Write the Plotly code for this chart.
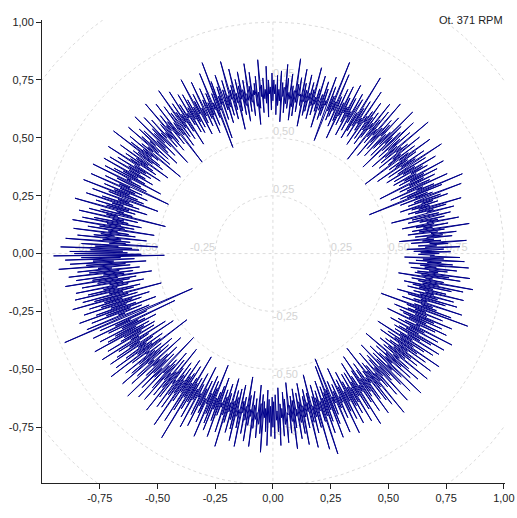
import numpy as np
import plotly.graph_objects as go

# Orbit radius (hundredths) sampled around the shaft, one list per 30 degree sector
SECTOR_START_DEG = [0, 30, 60, 90, 120, 150, 180, 210, 240, 270, 300, 330]
r_000 = [72, 64, 77, 61, 69, 74, 58, 81, 66, 71, 63, 76, 68, 84, 60, 73, 65, 70, 55, 78,
         67, 74, 62, 80, 69, 72, 59, 75, 64, 86, 61, 70, 66, 77, 63, 71, 57, 82, 68, 73,
         65, 76, 60, 70, 79, 62, 74, 67, 53, 81, 69, 72, 64, 78, 61, 85, 66, 71, 63, 75,
         58, 73, 68, 80, 62, 77, 65, 70, 87, 59, 74, 66, 72, 45, 79, 63, 89, 60, 76, 68,
         71, 56, 83, 64, 75, 69, 61, 78, 66, 73, 52, 80, 67, 74, 62, 84, 65, 71, 60, 77]
r_030 = [69, 75, 61, 82, 66, 72, 58, 78, 64, 70, 87, 60, 74, 67, 79, 55, 71, 65, 76, 62,
         84, 68, 73, 50, 77, 63, 70, 66, 81, 59, 75, 69, 72, 61, 88, 64, 71, 57, 79, 67,
         74, 62, 70, 83, 65, 76, 54, 72, 68, 78, 60, 86, 66, 73, 63, 71, 58, 80, 69, 75,
         61, 77, 64, 72, 56, 85, 67, 70, 62, 79, 65, 74, 52, 82, 68, 71, 63, 76, 59, 73,
         66, 80, 61, 75, 69, 72, 57, 84, 64, 70, 67, 78, 60, 74, 65, 89, 62, 71, 58, 77]
r_060 = [73, 65, 79, 61, 70, 67, 76, 58, 82, 64, 71, 68, 75, 62, 80, 66, 72, 55, 78, 63,
         69, 74, 60, 84, 67, 71, 64, 89, 62, 73, 66, 77, 59, 52, 81, 68, 70, 63, 75, 61,
         78, 65, 72, 69, 57, 80, 64, 74, 67, 70, 62, 83, 66, 73, 60, 76, 68, 71, 63, 79,
         61, 72, 67, 75, 56, 81, 65, 70, 69, 77, 62, 74, 66, 85, 60, 71, 64, 73, 58, 78,
         67, 70, 63, 76, 65, 82, 61, 72, 68, 74, 57, 79, 66, 71, 64, 77, 60, 73, 69, 75]
r_090 = [66, 78, 62, 72, 69, 75, 59, 81, 65, 71, 67, 76, 61, 73, 68, 84, 63, 70, 56, 77,
         64, 74, 69, 71, 60, 79, 66, 73, 62, 83, 67, 70, 58, 76, 65, 72, 61, 80, 68, 74,
         63, 77, 55, 71, 67, 82, 64, 75, 60, 73, 69, 86, 62, 71, 66, 78, 59, 74, 65, 70,
         81, 61, 76, 68, 72, 53, 79, 66, 88, 49, 74, 63, 70, 67, 84, 60, 75, 65, 71, 57,
         78, 64, 73, 69, 61, 82, 66, 70, 63, 77, 58, 74, 68, 85, 62, 72, 65, 76, 60, 79]
r_120 = [67, 73, 61, 80, 65, 71, 69, 76, 56, 83, 63, 72, 68, 78, 60, 74, 66, 86, 62, 70,
         75, 58, 79, 64, 71, 67, 50, 82, 65, 73, 61, 77, 69, 72, 63, 85, 59, 74, 66, 70,
         62, 78, 68, 71, 54, 81, 64, 75, 67, 73, 60, 84, 65, 70, 63, 77, 57, 79, 69, 72,
         61, 76, 66, 83, 59, 71, 68, 74, 52, 80, 64, 72, 67, 78, 62, 87, 60, 73, 65, 75,
         70, 56, 81, 66, 72, 63, 77, 61, 74, 69, 85, 58, 71, 65, 79, 62, 73, 67, 82, 64]
r_150 = [72, 60, 84, 67, 74, 63, 78, 55, 82, 69, 71, 64, 87, 61, 75, 66, 50, 80, 68, 73,
         62, 86, 65, 72, 59, 79, 67, 74, 63, 88, 60, 76, 69, 53, 83, 66, 71, 64, 78, 61,
         85, 68, 73, 57, 80, 65, 75, 62, 89, 67, 70, 63, 77, 48, 82, 69, 74, 60, 86, 66,
         71, 64, 79, 58, 84, 67, 73, 61, 88, 65, 76, 52, 81, 68, 72, 63, 87, 60, 75, 69,
         78, 55, 85, 66, 74, 62, 90, 64, 71, 50, 83, 67, 77, 61, 92, 58, 79, 65, 88, 63]
r_180 = [86, 57, 95, 47, 83, 66, 90, 60, 78, 69, 88, 55, 81, 64, 93, 62, 76, 70, 85, 58,
         80, 67, 89, 61, 74, 65, 86, 53, 79, 68, 91, 60, 77, 63, 84, 66, 72, 57, 87, 64,
         75, 69, 82, 59, 88, 62, 73, 67, 85, 50, 80, 65, 90, 61, 76, 68, 83, 56, 78, 64,
         86, 60, 74, 67, 81, 63, 89, 54, 77, 66, 84, 61, 72, 69, 87, 58, 79, 98, 38, 64,
         82, 60, 75, 68, 86, 47, 79, 65, 73, 62, 84, 57, 77, 67, 81, 61, 88, 64, 74, 59]
r_210 = [76, 66, 83, 60, 72, 68, 87, 55, 79, 64, 74, 69, 81, 52, 85, 63, 71, 67, 78, 59,
         84, 65, 73, 61, 88, 47, 77, 68, 70, 62, 82, 66, 75, 57, 80, 64, 86, 60, 72, 69,
         79, 54, 83, 67, 71, 63, 76, 58, 88, 65, 73, 61, 81, 69, 74, 50, 85, 66, 70, 62,
         78, 64, 84, 57, 72, 68, 80, 60, 75, 66, 87, 53, 79, 63, 71, 69, 83, 59, 76, 65,
         82, 61, 74, 67, 90, 56, 77, 64, 72, 62, 86, 58, 80, 66, 73, 63, 93, 52, 78, 65]
r_240 = [74, 62, 81, 67, 72, 59, 85, 64, 70, 68, 78, 55, 83, 65, 73, 61, 76, 69, 80, 58,
         71, 66, 86, 60, 75, 63, 79, 52, 82, 67, 72, 64, 77, 61, 84, 57, 74, 68, 70, 62,
         81, 65, 73, 59, 87, 63, 76, 67, 71, 56, 80, 66, 74, 61, 78, 64, 83, 60, 72, 69,
         77, 58, 85, 65, 70, 63, 79, 67, 73, 54, 82, 62, 75, 68, 71, 60, 84, 66, 76, 63,
         72, 69, 80, 57, 74, 65, 78, 61, 86, 64, 71, 67, 77, 59, 83, 63, 73, 66, 79, 62]
r_270 = [75, 64, 80, 61, 72, 68, 77, 58, 83, 65, 71, 67, 79, 60, 74, 63, 82, 69, 70, 56,
         78, 66, 73, 62, 85, 64, 76, 59, 71, 68, 81, 61, 74, 65, 79, 57, 84, 67, 72, 63,
         77, 60, 70, 66, 86, 62, 75, 54, 80, 68, 73, 64, 78, 59, 88, 65, 71, 62, 76, 67,
         91, 58, 74, 66, 82, 61, 77, 64, 72, 52, 85, 63, 79, 49, 75, 67, 70, 60, 84, 65,
         73, 62, 78, 68, 71, 55, 86, 64, 76, 61, 80, 67, 72, 58, 83, 63, 75, 66, 79, 60]
r_300 = [74, 67, 84, 60, 72, 65, 79, 56, 87, 63, 71, 68, 77, 61, 82, 54, 75, 66, 73, 62,
         85, 59, 78, 67, 70, 64, 80, 52, 83, 65, 74, 61, 89, 63, 72, 68, 76, 57, 81, 66,
         71, 62, 86, 60, 75, 67, 73, 55, 79, 64, 84, 61, 72, 69, 77, 58, 88, 63, 70, 66,
         80, 60, 74, 65, 83, 53, 77, 68, 71, 62, 86, 64, 73, 59, 79, 66, 75, 61, 85, 63,
         72, 67, 81, 57, 76, 64, 87, 60, 73, 66, 78, 54, 82, 65, 71, 62, 84, 68, 74, 61]
r_330 = [79, 63, 85, 66, 72, 58, 81, 67, 74, 61, 87, 64, 71, 69, 78, 55, 83, 65, 73, 62,
         80, 60, 76, 67, 84, 57, 72, 63, 79, 66, 71, 62, 90, 50, 82, 65, 75, 68, 73, 59,
         86, 64, 70, 67, 78, 61, 83, 56, 74, 66, 81, 63, 72, 68, 85, 60, 77, 65, 71, 62,
         79, 58, 84, 66, 73, 64, 88, 61, 75, 67, 70, 55, 82, 65, 77, 62, 86, 63, 72, 68,
         76, 60, 80, 66, 71, 64, 85, 59, 78, 67, 73, 62, 83, 65, 74, 57, 81, 68, 70, 63]
SECTORS = [r_000, r_030, r_060, r_090, r_120, r_150,
           r_180, r_210, r_240, r_270, r_300, r_330]

# Polar reference grid and axis ticks
GRID_RADII = [0.25, 0.50, 0.75, 1.00, 1.25]
LABEL_RADII = [0.25, 0.50, 0.75]
TICK_VALUES = [-0.75, -0.50, -0.25, 0.00, 0.25, 0.50, 0.75, 1.00]
TICK_LABELS = ["-0,75", "-0,50", "-0,25", "0,00", "0,25", "0,50", "0,75", "1,00"]
TITLE = "Ot. 371 RPM"

ORBIT_COLOR = "#00008B"
GRID_COLOR = "#dcdcdc"
GRID_LABEL_COLOR = "#d4d4d4"
FONT = "Liberation Sans, Arial, sans-serif"


def fmt(v):
    return f"{v:.2f}".replace(".", ",")


# Orbit in cartesian coordinates
theta, radius = [], []
for start, vals in zip(SECTOR_START_DEG, SECTORS):
    n = len(vals)
    for i, v in enumerate(vals):
        theta.append(np.deg2rad(start + 30.0 * i / n))
        radius.append(v / 100.0)
theta.append(theta[0] + 2 * np.pi)
radius.append(radius[0])
theta = np.array(theta)
radius = np.array(radius)
orbit_x = radius * np.cos(theta)
orbit_y = radius * np.sin(theta)

fig = go.Figure()

# dashed grid circles
phi = np.linspace(0, 2 * np.pi, 361)
for r in GRID_RADII:
    fig.add_trace(go.Scatter(x=r * np.cos(phi), y=r * np.sin(phi), mode="lines",
                             line=dict(color=GRID_COLOR, width=1, dash="3px,3px"),
                             hoverinfo="skip", showlegend=False))
# dashed cross through the centre
fig.add_trace(go.Scatter(x=[-1.5, 1.5], y=[0, 0], mode="lines",
                         line=dict(color=GRID_COLOR, width=1, dash="3px,3px"),
                         hoverinfo="skip", showlegend=False))
fig.add_trace(go.Scatter(x=[0, 0], y=[-1.5, 1.5], mode="lines",
                         line=dict(color=GRID_COLOR, width=1, dash="3px,3px"),
                         hoverinfo="skip", showlegend=False))

# grid radius labels on the four half-axes
lab_x, lab_y, lab_t, lab_p = [], [], [], []
for r in LABEL_RADII:
    lab_x += [0, r, 0, -r]
    lab_y += [r, 0, -r, 0]
    lab_t += [fmt(r), fmt(r), fmt(-r), fmt(-r)]
    lab_p += ["top right", "top right", "bottom right", "top left"]
fig.add_trace(go.Scatter(x=lab_x, y=lab_y, mode="text", text=lab_t,
                         textposition=lab_p,
                         textfont=dict(family=FONT, size=11, color=GRID_LABEL_COLOR),
                         hoverinfo="skip", showlegend=False))

# shaft orbit
fig.add_trace(go.Scatter(x=orbit_x, y=orbit_y, mode="lines",
                         line=dict(color=ORBIT_COLOR, width=1),
                         showlegend=False))

axis_common = dict(showgrid=False, zeroline=False, showline=True, automargin=False,
                   linecolor="#222222", linewidth=1, ticks="outside",
                   ticklen=5, tickcolor="#222222", tickwidth=1,
                   tickvals=TICK_VALUES, ticktext=TICK_LABELS,
                   tickfont=dict(family=FONT, size=11, color="#222222"))

fig.update_layout(
    width=517, height=518,
    margin=dict(l=42, r=12, t=20, b=35),
    paper_bgcolor="white", plot_bgcolor="white",
    xaxis=dict(range=[-1.0, 1.005], **axis_common),
    yaxis=dict(range=[-0.991, 1.009], **axis_common),
    annotations=[dict(text=TITLE, xref="paper", yref="paper", x=1.0, y=1.0,
                      xanchor="right", yanchor="middle", showarrow=False,
                      font=dict(family=FONT, size=11, color="#222222"))],
)

fig.write_html("out.html")
